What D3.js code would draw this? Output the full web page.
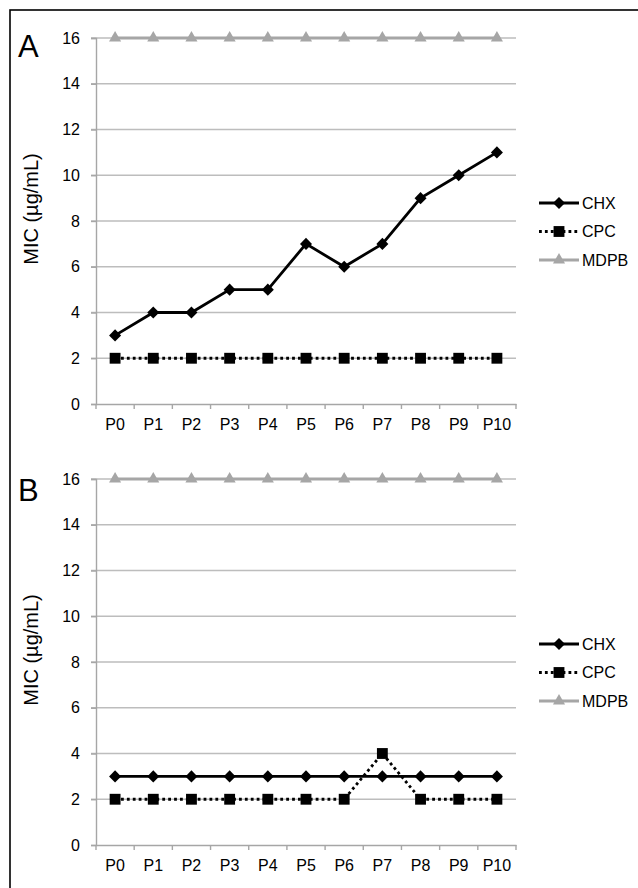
<!DOCTYPE html>
<html>
<head>
<meta charset="utf-8">
<script src="https://cdn.jsdelivr.net/npm/d3@7"></script>
<style>
  body { margin: 0; background: #fff; }
  svg { display: block; font-family: "Liberation Sans", Arial, sans-serif; }
</style>
</head>
<body>
<div id="plot"></div>
<script>
// categories (passages)
const passages = ["P0", "P1", "P2", "P3", "P4", "P5", "P6", "P7", "P8", "P9", "P10"];
const yTicks = [0, 2, 4, 6, 8, 10, 12, 14, 16];

// panel A values
const chxA = [3, 4, 4, 5, 5, 7, 6, 7, 9, 10, 11];
const cpcA = [2, 2, 2, 2, 2, 2, 2, 2, 2, 2, 2];
const mdpbA = [16, 16, 16, 16, 16, 16, 16, 16, 16, 16, 16];

// panel B values
const chxB = [3, 3, 3, 3, 3, 3, 3, 3, 3, 3, 3];
const cpcB = [2, 2, 2, 2, 2, 2, 2, 4, 2, 2, 2];
const mdpbB = [16, 16, 16, 16, 16, 16, 16, 16, 16, 16, 16];

const seriesNames = ["CHX", "CPC", "MDPB"];

const width = 638, height = 888;
const font = "'Liberation Sans', Arial, sans-serif";
const svg = d3.select("#plot").append("svg")
  .attr("width", width)
  .attr("height", height);

// frame (only top and left show in the picture)
svg.append("rect")
  .attr("x", 10).attr("y", 10)
  .attr("width", 640).attr("height", 900)
  .attr("fill", "none")
  .attr("stroke", "#000")
  .attr("stroke-width", 1.6);

const gridColor = "#bdbdbd";
const axisColor = "#a6a6a6";
const mdpbColor = "#a6a6a6";

const styles = {
  CHX: { color: "#000", width: 2.8, dash: null, symbol: d3.symbolDiamond2, size: 92 },
  CPC: { color: "#000", width: 2.8, dash: "2.8,3.1", symbol: d3.symbolSquare2, size: 150 },
  MDPB: { color: mdpbColor, width: 2.8, dash: null, symbol: d3.symbolTriangle2, size: 105 }
};

function drawPanel(letter, top, data) {
  const x = d3.scaleBand().domain(passages).range([96, 516]);
  const y = d3.scaleLinear().domain([0, 16]).range([top + 366, top]);
  const g = svg.append("g");

  // gridlines
  g.selectAll(".grid")
    .data(yTicks.filter(d => d > 0))
    .join("line")
    .attr("x1", 91).attr("x2", 516)
    .attr("y1", d => y(d)).attr("y2", d => y(d))
    .attr("stroke", gridColor)
    .attr("stroke-width", 1.4);

  // y axis
  const yAxis = g.append("g")
    .attr("transform", "translate(96,0)")
    .call(d3.axisLeft(y).tickValues(yTicks).tickSize(5).tickPadding(11));
  yAxis.attr("font-size", null).attr("font-family", null);
  yAxis.select(".domain").attr("stroke", axisColor).attr("stroke-width", 1.4);
  yAxis.selectAll(".tick line").attr("stroke", axisColor).attr("stroke-width", 1.4);
  yAxis.selectAll("text").style("font-size", "16px").style("font-family", font).attr("fill", "#000");

  // x axis with ticks on category boundaries
  const xAxis = g.append("g")
    .attr("transform", `translate(0,${y(0)})`)
    .call(d3.axisBottom(x).tickSize(0).tickPadding(15));
  xAxis.attr("font-size", null).attr("font-family", null);
  xAxis.select(".domain").attr("stroke", axisColor).attr("stroke-width", 1.4);
  xAxis.selectAll("text").style("font-size", "16px").style("font-family", font).attr("fill", "#000");
  const bounds = passages.map(p => x(p)).concat([x(passages[passages.length - 1]) + x.bandwidth()]);
  g.selectAll(".xtick")
    .data(bounds)
    .join("line")
    .attr("x1", d => d).attr("x2", d => d)
    .attr("y1", y(0)).attr("y2", y(0) + 5)
    .attr("stroke", axisColor)
    .attr("stroke-width", 1.4);

  // y axis title
  g.append("text")
    .attr("transform", `translate(38,${y(8) - 12}) rotate(-90)`)
    .attr("text-anchor", "middle")
    .style("font-size", "20px")
    .text("MIC (\u00b5g/mL)");

  // panel letter
  g.append("text")
    .attr("x", 18)
    .attr("y", top + (letter === "A" ? 19 : 22))
    .style("font-size", "31px")
    .text(letter);

  const line = d3.line()
    .x((d, i) => x(passages[i]) + x.bandwidth() / 2)
    .y(d => y(d));

  // draw MDPB first, then CPC, then CHX on top
  ["MDPB", "CPC", "CHX"].forEach(name => {
    const s = styles[name];
    const vals = data[name];
    g.append("path")
      .datum(vals)
      .attr("d", line)
      .attr("fill", "none")
      .attr("stroke", s.color)
      .attr("stroke-width", s.width)
      .attr("stroke-dasharray", s.dash);
    g.selectAll(".m-" + name)
      .data(vals)
      .join("path")
      .attr("transform", (d, i) => `translate(${x(passages[i]) + x.bandwidth() / 2},${y(d)})`)
      .attr("d", d3.symbol().type(s.symbol).size(s.size))
      .attr("fill", s.color);
  });

  // legend
  const leg = g.append("g").attr("transform", `translate(539,${top + 165})`);
  seriesNames.forEach((name, i) => {
    const s = styles[name];
    const row = leg.append("g").attr("transform", `translate(0,${i * 28.5})`);
    row.append("line")
      .attr("x1", 0).attr("x2", 40)
      .attr("stroke", s.color)
      .attr("stroke-width", s.width)
      .attr("stroke-dasharray", s.dash);
    row.append("path")
      .attr("transform", "translate(20,0)")
      .attr("d", d3.symbol().type(s.symbol).size(s.size))
      .attr("fill", s.color);
    row.append("text")
      .attr("x", 43)
      .attr("dy", "0.35em")
      .style("font-size", "16px")
      .text(name);
  });
}

drawPanel("A", 38, { CHX: chxA, CPC: cpcA, MDPB: mdpbA });
drawPanel("B", 479, { CHX: chxB, CPC: cpcB, MDPB: mdpbB });
</script>
</body>
</html>
